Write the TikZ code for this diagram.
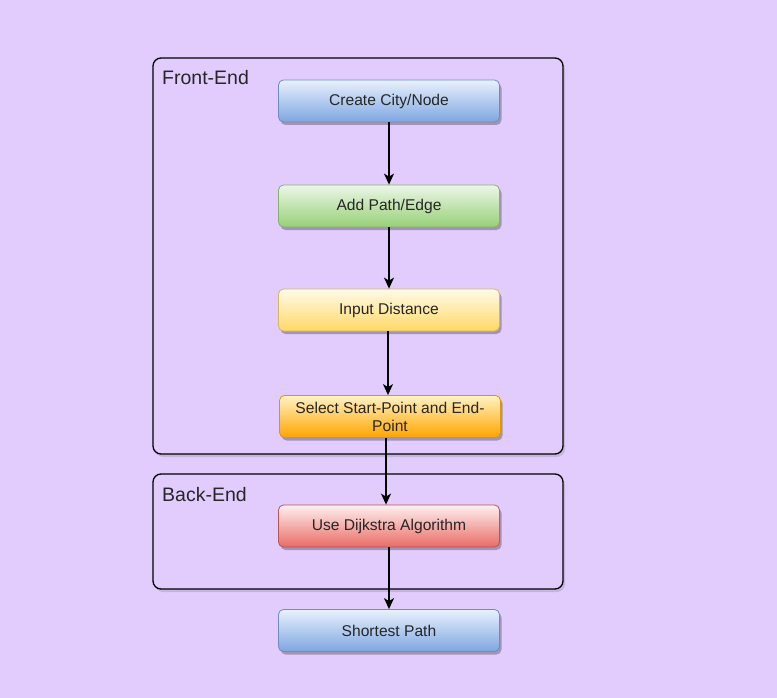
\documentclass[tikz,border=0pt]{standalone}
\usepackage{fontspec}
\setmainfont{Liberation Sans}
\usetikzlibrary{arrows.meta,shadows}
\definecolor{bgc}{RGB}{226,204,253}
\definecolor{bluetop}{RGB}{232,241,253}\definecolor{bluemid}{RGB}{170,198,237}\definecolor{bluebot}{RGB}{126,166,224}\definecolor{bluestroke}{RGB}{108,142,191}
\definecolor{greentop}{RGB}{236,246,232}\definecolor{greenmid}{RGB}{188,224,168}\definecolor{greenbot}{RGB}{151,208,119}\definecolor{greenstroke}{RGB}{130,179,102}
\definecolor{yeltop}{RGB}{255,250,234}\definecolor{yelmid}{RGB}{255,233,158}\definecolor{yelbot}{RGB}{255,217,102}\definecolor{yelstroke}{RGB}{214,182,86}
\definecolor{orgtop}{RGB}{255,242,196}\definecolor{orgmid}{RGB}{255,193,38}\definecolor{orgbot}{RGB}{255,165,0}\definecolor{orgstroke}{RGB}{215,155,0}
\definecolor{redtop}{RGB}{253,240,239}\definecolor{redmid}{RGB}{242,158,156}\definecolor{redbot}{RGB}{234,107,102}\definecolor{redstroke}{RGB}{184,84,80}
\tikzset{
  flowbox/.style={rectangle, rounded corners=5pt, minimum width=221pt, minimum height=42pt, align=center,
    font=\fontsize{15.6}{18}\selectfont, text=black!85, line width=0.8pt,
    drop shadow={shadow xshift=2pt, shadow yshift=-3pt, opacity=0.28, fill=black}},
  bluebox/.style={flowbox, draw=bluestroke, top color=bluetop, middle color=bluemid, bottom color=bluebot},
  greenbox/.style={flowbox, draw=greenstroke, top color=greentop, middle color=greenmid, bottom color=greenbot},
  yelbox/.style={flowbox, draw=yelstroke, top color=yeltop, middle color=yelmid, bottom color=yelbot},
  orgbox/.style={flowbox, draw=orgstroke, top color=orgtop, middle color=orgmid, bottom color=orgbot},
  redbox/.style={flowbox, draw=redstroke, top color=redtop, middle color=redmid, bottom color=redbot},
  frame/.style={draw=black, line width=1.3pt, rounded corners=8pt,
    drop shadow={shadow xshift=2pt, shadow yshift=-3pt, opacity=0.12, fill=black}, fill=bgc},
  grouplabel/.style={anchor=base west, inner sep=0pt, font=\fontsize{19.5}{22}\selectfont, text=black!85},
  flow/.style={draw=black, line width=1.4pt, -{Stealth[length=11pt,width=10pt,inset=3pt]}}
}
\begin{document}
\begin{tikzpicture}[x=1pt,y=-1pt]
\fill[bgc] (0,0) rectangle (777,698);
\useasboundingbox (0,0) rectangle (777,698);
\path[frame] (153,58) rectangle (563,454);
\path[frame] (153,474) rectangle (563,589);
\node[grouplabel] (fe) at (162,85) {Front-End};
\node[grouplabel] (be) at (162,501) {Back-End};
\node[bluebox] (create) at (389,101) {Create City/Node};
\node[greenbox] (add) at (389,206) {Add Path/Edge};
\node[yelbox] (dist) at (389,310) {Input Distance};
\node[orgbox] (sel) at (390,416.5) {Select Start-Point and End-\\Point};
\node[redbox] (dij) at (389,526) {Use Dijkstra Algorithm};
\node[bluebox] (sp) at (389,630.5) {Shortest Path};
\draw[flow] (create.south) -- (add.north);
\draw[flow] (add.south) -- (dist.north);
\draw[flow] ([xshift=-1pt]dist.south) -- ([xshift=-2pt]sel.north);
\draw[flow] ([xshift=-4pt]sel.south) -- ([xshift=-3pt]dij.north);
\draw[flow] (dij.south) -- (sp.north);
\end{tikzpicture}
\end{document}
